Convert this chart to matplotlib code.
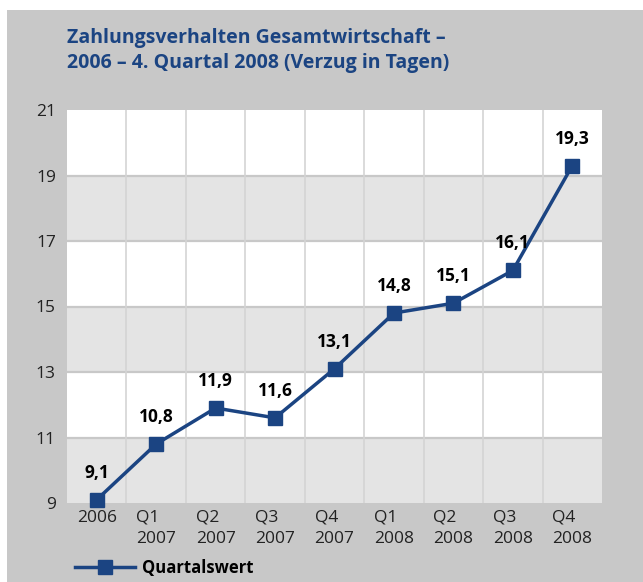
import matplotlib
matplotlib.use('Agg')
import matplotlib.pyplot as plt
from matplotlib.patches import Rectangle
from matplotlib.lines import Line2D

categories = ['2006', 'Q1\n2007', 'Q2\n2007', 'Q3\n2007', 'Q4\n2007',
              'Q1\n2008', 'Q2\n2008', 'Q3\n2008', 'Q4\n2008']
values = [9.1, 10.8, 11.9, 11.6, 13.1, 14.8, 15.1, 16.1, 19.3]
yticks = [9, 11, 13, 15, 17, 19, 21]
series_name = 'Quartalswert'
title = 'Zahlungsverhalten Gesamtwirtschaft –\n2006 – 4. Quartal 2008 (Verzug in Tagen)'

blue = '#1b4482'
bg = '#c8c8c8'
band = '#e4e4e4'
plt.rcParams['font.family'] = ['Open Sans', 'DejaVu Sans']

fig = plt.figure(figsize=(6.43, 5.82), dpi=100, facecolor=bg)
# white strips at top and left edge
fig.patches.append(Rectangle((0, 1 - 10/582), 1, 10/582, transform=fig.transFigure,
                             facecolor='white', edgecolor='none'))
fig.patches.append(Rectangle((0, 0), 7/643, 1, transform=fig.transFigure,
                             facecolor='white', edgecolor='none'))

ax = fig.add_axes([67/643, 79/582, 535/643, 393/582])
ax.set_facecolor('white')
n = len(categories)
ax.set_xlim(-0.5, n - 0.5)
ax.set_ylim(9, 21)

# alternating bands
for lo, hi in zip(yticks[:-1], yticks[1:]):
    if (lo - 9) % 4 == 0:
        ax.axhspan(lo, hi, color=band, zorder=0, lw=0)
for yv in yticks[1:-1]:
    ax.axhline(yv, color='#c8c8c8', lw=1.6, zorder=1)
for i in range(1, n):
    ax.axvline(i - 0.5, color='#d4d4d4', lw=1.2, zorder=1)

x = list(range(n))
ax.plot(x, values, color=blue, lw=2.5, marker='s', markersize=10.5, zorder=3, clip_on=False)
for xi, v in zip(x, values):
    ax.annotate(f'{v:.1f}'.replace('.', ','), (xi, v), xytext=(0, 13),
                textcoords='offset points', ha='center', va='bottom',
                fontsize=12.5, fontweight='bold', color='black')

ax.set_yticks(yticks)
ax.set_xticks(x)
ax.set_xticklabels(categories, linespacing=1.45, multialignment='left')
ax.tick_params(axis='both', length=0, labelsize=12.5, colors='#222222')
ax.tick_params(axis='x', pad=5)
ax.tick_params(axis='y', pad=8)
for s in ax.spines.values():
    s.set_visible(False)

fig.text(67/643, 1 - 28/582, title, ha='left', va='top', fontsize=14,
         fontweight='bold', color=blue, linespacing=1.35)

handle = Line2D([], [], color=blue, lw=2.5, marker='s', markersize=10.5)
fig.legend([handle], [series_name], loc='lower left', bbox_to_anchor=(60/643, -10/582),
           frameon=False, prop={'weight': 'bold', 'size': 12}, handlelength=3.6,
           handletextpad=0.4)

fig.savefig('out.png', dpi=100, facecolor=fig.get_facecolor())
